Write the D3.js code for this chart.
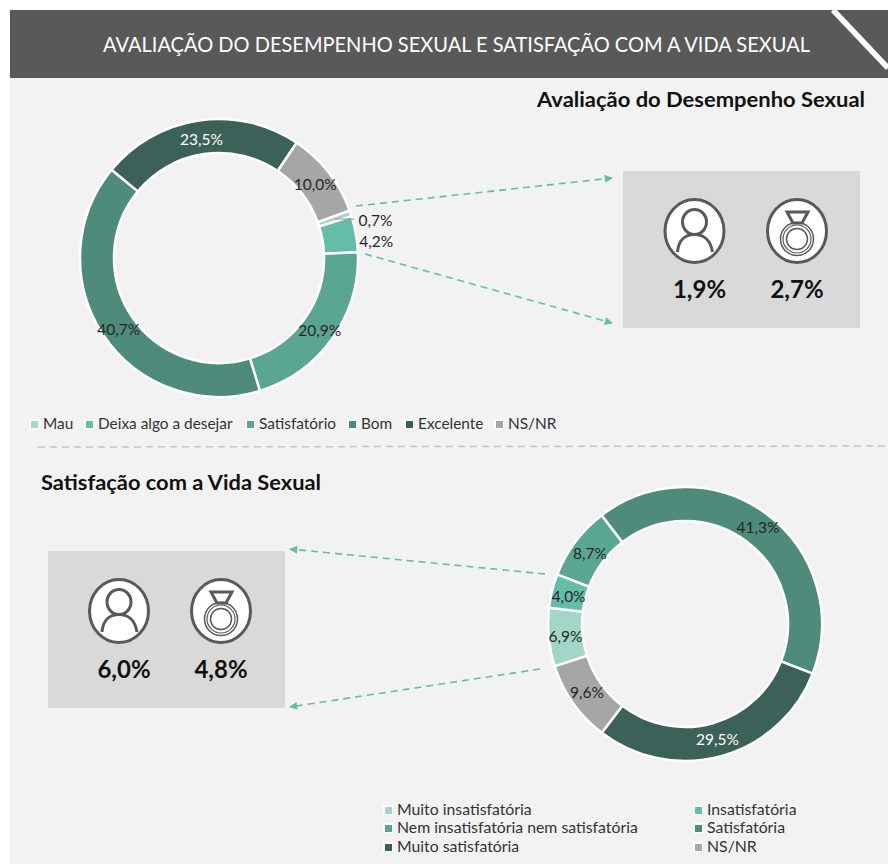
<!DOCTYPE html>
<html><head><meta charset="utf-8">
<script src="https://cdn.jsdelivr.net/npm/d3@7"></script>
<style>html,body{margin:0;padding:0;background:#fff}svg{display:block}text{font-family:Lato,Carlito,sans-serif}</style>
</head><body><div id="c"></div>
<script>
const titleText="AVALIAÇÃO DO DESEMPENHO SEXUAL E SATISFAÇÃO COM A VIDA SEXUAL";
const heading1="Avaliação do Desempenho Sexual";
const heading2="Satisfação com a Vida Sexual";
const cats1=["Mau","Deixa algo a desejar","Satisfatório","Bom","Excelente","NS/NR"];
const vals1=[0.7,4.2,20.9,40.7,23.5,10.0];
const cats2=["Muito insatisfatória","Insatisfatória","Nem insatisfatória nem satisfatória","Satisfatória","Muito satisfatória","NS/NR"];
const vals2=[6.9,4.0,8.7,41.3,29.5,9.6];
const colors=["#a2d7c8","#66bca9","#5aa692","#4e8b7b","#3c6158","#a6a6a6"];
const side1=[1.9,2.7];
const side2=[6.0,4.8];

const W=888,H=864;
const svg=d3.select("#c").append("svg").attr("width",W).attr("height",H);
const fmt=v=>d3.format(".1f")(v).replace(".",",")+"%";
svg.append("rect").attr("x",10).attr("y",10).attr("width",W-10).attr("height",H-10).attr("fill","#f2f2f2");
svg.append("rect").attr("x",10).attr("y",10).attr("width",W-10).attr("height",68).attr("fill","#595959");
svg.append("line").attr("x1",833).attr("y1",10).attr("x2",888).attr("y2",68).attr("stroke","#fff").attr("stroke-width",5.5);
svg.append("path").attr("d","M843,10L888,10L888,58Z").attr("fill","#595959");
svg.append("text").attr("x",103).attr("y",52).attr("font-size",20.5).attr("fill","#fff").attr("textLength",707).attr("lengthAdjust","spacingAndGlyphs").text(titleText);
svg.append("text").attr("x",537).attr("y",107).attr("font-size",20).attr("font-weight",700).attr("fill","#111").attr("textLength",328).attr("lengthAdjust","spacingAndGlyphs").text(heading1);
svg.append("text").attr("x",41).attr("y",490).attr("font-size",20).attr("font-weight",700).attr("fill","#111").attr("textLength",280).attr("lengthAdjust","spacingAndGlyphs").text(heading2);
svg.append("line").attr("x1",38).attr("y1",447).attr("x2",888).attr("y2",446).attr("stroke","#c4c4c4").attr("stroke-width",1.5).attr("stroke-dasharray","7 5");

function donut(vals,cx,cy,ro,ri,startDeg,labelFill,labelNudge){
  const pie=d3.pie().sort(null).startAngle(startDeg*Math.PI/180).endAngle((startDeg+360)*Math.PI/180);
  const arc=d3.arc().outerRadius(ro).innerRadius(ri);
  const g=svg.append("g").attr("transform",`translate(${cx},${cy})`);
  const arcs=pie(vals);
  g.selectAll("path").data(arcs).join("path").attr("d",arc).attr("fill",(d,i)=>colors[i]).attr("stroke","#fff").attr("stroke-width",2.5);
  g.selectAll("text").data(arcs).join("text").attr("text-anchor","middle").attr("font-size",15.5)
   .attr("fill",(d,i)=>labelFill(i))
   .attr("x",(d,i)=>arc.centroid(d)[0]+(labelNudge[i]?labelNudge[i][0]:0))
   .attr("y",(d,i)=>arc.centroid(d)[1]+5+(labelNudge[i]?labelNudge[i][1]:0))
   .text(d=>fmt(d.data));
}
donut(vals1,219,258,139,105,70,i=>i===4?"#fff":"#262626",{0:[41,2],1:[37,5],2:[1,3],3:[1,4],4:[0,3],5:[0,2]});
donut(vals2,685,624,137,103,252,i=>i===4?"#fff":"#262626",{0:[0,1],1:[0,2],2:[1,2],3:[1,0],4:[0,0],5:[0,0]});
svg.append("line").attr("x1",335).attr("y1",219).attr("x2",354).attr("y2",219).attr("stroke","#8c8c8c").attr("stroke-width",1);

const marker=svg.append("defs").append("marker").attr("id","ah").attr("viewBox","0 0 10 10").attr("refX",9).attr("refY",5).attr("markerWidth",10).attr("markerHeight",8).attr("markerUnits","userSpaceOnUse").attr("orient","auto");
marker.append("path").attr("d","M0,0L10,5L0,10Z").attr("fill","#66bca9");
[[356,206,612,178],[365,254,612,323],[545,574,290,549],[540,669,290,707]].forEach(a=>{
  svg.append("line").attr("x1",a[0]).attr("y1",a[1]).attr("x2",a[2]).attr("y2",a[3]).attr("stroke","#66bca9").attr("stroke-width",1.6).attr("stroke-dasharray","7 5").attr("marker-end","url(#ah)");
});

function panel(x,y,w,h,vals,x1,x2,iy,ty){
  svg.append("rect").attr("x",x).attr("y",y).attr("width",w).attr("height",h).attr("fill","#d9d9d9");
  person(x1,iy); ring(x2,iy);
  [x1,x2].forEach((px,i)=>svg.append("text").attr("x",px+5*(i?0:1)).attr("y",ty).attr("text-anchor","middle").attr("font-size",24).attr("font-weight",700).attr("fill","#111").text(fmt(vals[i])));
}
const gr="#595959";
function person(cx,cy){
  const g=svg.append("g").attr("transform",`translate(${cx},${cy})`);
  g.append("ellipse").attr("rx",29.5).attr("ry",31.5).attr("fill","#fff").attr("stroke",gr).attr("stroke-width",3);
  g.append("ellipse").attr("cy",-9).attr("rx",12).attr("ry",12.5).attr("fill","none").attr("stroke",gr).attr("stroke-width",3);
  g.append("path").attr("d","M-17,21C-16,8 -8,3.5 0,3.5C8,3.5 16,8 18,21").attr("fill","none").attr("stroke",gr).attr("stroke-width",3);
}
function ring(cx,cy){
  const g=svg.append("g").attr("transform",`translate(${cx},${cy})`);
  g.append("ellipse").attr("rx",29.5).attr("ry",31.5).attr("fill","#fff").attr("stroke",gr).attr("stroke-width",3);
  g.append("path").attr("d","M-10,-19L11,-19L5,-8L-4,-8Z").attr("fill","none").attr("stroke",gr).attr("stroke-width",3);
  g.append("circle").attr("cy",8).attr("r",16.5).attr("fill","none").attr("stroke",gr).attr("stroke-width",1.5);
  g.append("circle").attr("cy",8).attr("r",14).attr("fill","none").attr("stroke",gr).attr("stroke-width",1.2);
  g.append("circle").attr("cy",8).attr("r",10.5).attr("fill","none").attr("stroke",gr).attr("stroke-width",1.5);
}
panel(623,171,237,157,side1,694.5,797,231,298);
panel(48,551,237,157,side2,119,221,611,678);

function legend(cats,xs,ys,fs){
  cats.forEach((c,i)=>{
    const x=xs[i],y=ys[i];
    svg.append("rect").attr("x",x).attr("y",y-5).attr("width",10).attr("height",10).attr("fill","#fff");
    svg.append("rect").attr("x",x+2).attr("y",y-3).attr("width",7).attr("height",7).attr("fill",colors[i]);
    svg.append("text").attr("x",x+14).attr("y",y+5).attr("font-size",fs).attr("fill","#333").text(c);
  });
}
legend(cats1,[29,84,245,347,404,494],[424,424,424,424,424,424],15.4);
legend(cats2,[383,693,383,693,383,693],[810,810,828,828,847,847],15.8);
</script></body></html>
